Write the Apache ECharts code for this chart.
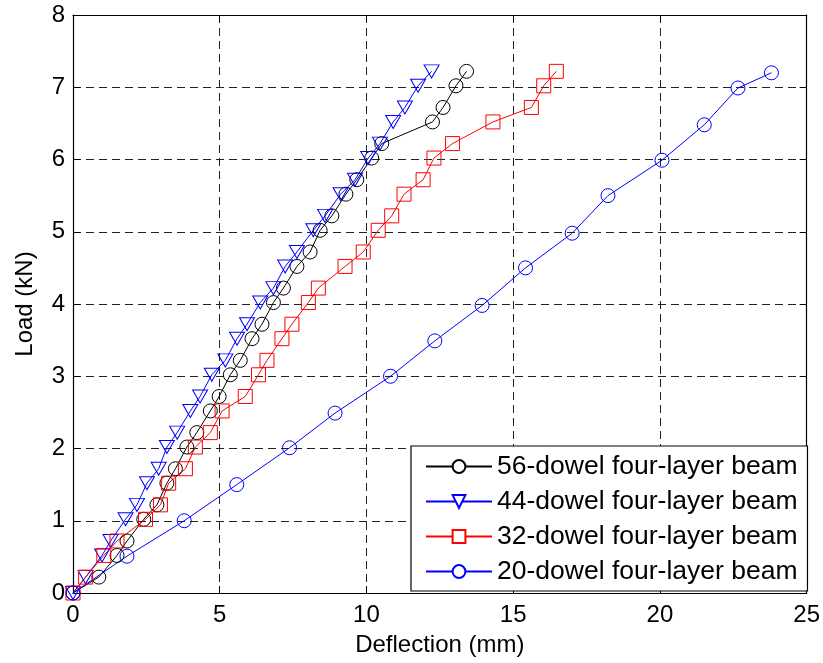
<!DOCTYPE html>
<html>
<head>
<meta charset="utf-8">
<script src="https://cdn.jsdelivr.net/npm/echarts@6/dist/echarts.min.js"></script>
<style>html,body{margin:0;padding:0;background:#fff}#c{width:823px;height:663px}</style>
</head>
<body>
<div id="c"></div>
<script>
const seriesNames = ['56-dowel four-layer beam', '44-dowel four-layer beam', '32-dowel four-layer beam', '20-dowel four-layer beam'];
const xTicks = [0, 5, 10, 15, 20, 25];
const yTicks = [0, 1, 2, 3, 4, 5, 6, 7, 8];

const load30 = [0, 0.22, 0.52, 0.72, 1.02, 1.22, 1.52, 1.72, 2.02, 2.22, 2.52, 2.72, 3.02, 3.22, 3.52, 3.72, 4.02, 4.22, 4.52, 4.72, 5.02, 5.22, 5.52, 5.72, 6.02, 6.22, 6.52, 6.72, 7.02, 7.22];
const defl56 = [0, 0.88, 1.5, 1.84, 2.41, 2.86, 3.2, 3.49, 3.88, 4.22, 4.68, 4.98, 5.36, 5.7, 6.1, 6.44, 6.83, 7.17, 7.63, 8.08, 8.42, 8.82, 9.3, 9.67, 10.18, 10.52, 12.25, 12.61, 13.05, 13.41];
const defl44 = [0, 0.43, 0.99, 1.28, 1.79, 2.18, 2.52, 2.92, 3.2, 3.55, 4.0, 4.33, 4.73, 5.19, 5.59, 5.93, 6.38, 6.83, 7.23, 7.63, 8.19, 8.59, 9.12, 9.61, 10.06, 10.46, 10.91, 11.31, 11.76, 12.22];
const defl32 = [0, 0.43, 1.05, 1.5, 2.47, 2.98, 3.26, 3.83, 4.17, 4.68, 5.08, 5.87, 6.32, 6.61, 7.12, 7.46, 8.02, 8.36, 9.27, 9.89, 10.4, 10.86, 11.28, 11.93, 12.3, 12.93, 14.31, 15.62, 16.04, 16.47];
const defl20 = [0, 1.84, 3.79, 5.58, 7.38, 8.93, 10.82, 12.33, 13.94, 15.42, 17.01, 18.23, 20.07, 21.51, 22.66, 23.8];
const load20 = [0, 0.51, 1.0, 1.5, 2.01, 2.49, 3.0, 3.49, 3.98, 4.5, 4.98, 5.5, 5.99, 6.48, 6.99, 7.2];

function pairs(xs, ys) { return xs.map((x, i) => [x, ys[i]]); }

const FONT = 'Liberation Sans';
const chart = echarts.init(document.getElementById('c'), null, {renderer: 'canvas'});

function mkSeries(name, data, color, symbol, size) {
  return {
    name: name, type: 'line', data: data, xAxisIndex: 0, yAxisIndex: 0,
    symbol: symbol, symbolSize: size, showAllSymbol: true,
    lineStyle: {color: color, width: 1},
    itemStyle: {color: 'rgba(0,0,0,0)', borderColor: color, borderWidth: 1},
    emphasis: {disabled: true}, animation: false, z: 3
  };
}

const gridSplit = {show: true, lineStyle: {color: '#222', type: [8, 5], width: 1}};
const baseAxis = {
  axisLine: {show: true, onZero: false, lineStyle: {color: '#000', width: 1.2}},
  axisTick: {show: true, inside: true, length: 7, lineStyle: {color: '#000'}},
};

const option = {
  backgroundColor: '#fff',
  animation: false,
  textStyle: {fontFamily: FONT},
  grid: {left: 73, right: 16, top: 15, bottom: 70, containLabel: false},
  legend: {
    orient: 'vertical', left: 411, top: 446,
    backgroundColor: '#fff', borderColor: '#000', borderWidth: 1.2,
    padding: [7, 10, 6, 14], itemGap: 8, itemWidth: 66, itemHeight: 16,
    textStyle: {fontSize: 26.5, color: '#000', fontFamily: FONT},
    itemStyle: {color: '#fff'},
    data: seriesNames
  },
  xAxis: [
    Object.assign({}, baseAxis, {
      type: 'value', min: 0, max: 25, interval: 5, position: 'bottom',
      name: 'Deflection (mm)', nameLocation: 'middle', nameGap: 40,
      nameTextStyle: {fontSize: 24, color: '#000', fontFamily: FONT},
      axisLabel: {fontSize: 24, color: '#000', margin: 10, fontFamily: FONT,
        formatter: v => xTicks.includes(v) ? String(v) : ''},
      splitLine: gridSplit
    }),
    Object.assign({}, baseAxis, {
      type: 'value', min: 0, max: 25, interval: 5, position: 'top',
      axisLabel: {show: false}, splitLine: {show: false}
    })
  ],
  yAxis: [
    Object.assign({}, baseAxis, {
      type: 'value', min: 0, max: 8, interval: 1, position: 'left',
      name: 'Load (kN)', nameLocation: 'middle', nameGap: 36,
      nameTextStyle: {fontSize: 24, color: '#000', fontFamily: FONT},
      axisLabel: {fontSize: 24, color: '#000', margin: 8, fontFamily: FONT,
        formatter: v => yTicks.includes(v) ? String(v) : ''},
      splitLine: gridSplit
    }),
    Object.assign({}, baseAxis, {
      type: 'value', min: 0, max: 8, interval: 1, position: 'right',
      axisLabel: {show: false}, splitLine: {show: false}
    })
  ],
  series: [
    mkSeries(seriesNames[0], pairs(defl56, load30), '#000000', 'circle', 14),
    mkSeries(seriesNames[1], pairs(defl44, load30), '#0000ff', 'path://M0,0 L10,0 L5,9 Z', [15, 13]),
    mkSeries(seriesNames[2], pairs(defl32, load30), '#ff0000', 'rect', 14),
    mkSeries(seriesNames[3], pairs(defl20, load20), '#0000ff', 'circle', 14)
  ]
};
chart.setOption(option);
</script>
</body>
</html>
